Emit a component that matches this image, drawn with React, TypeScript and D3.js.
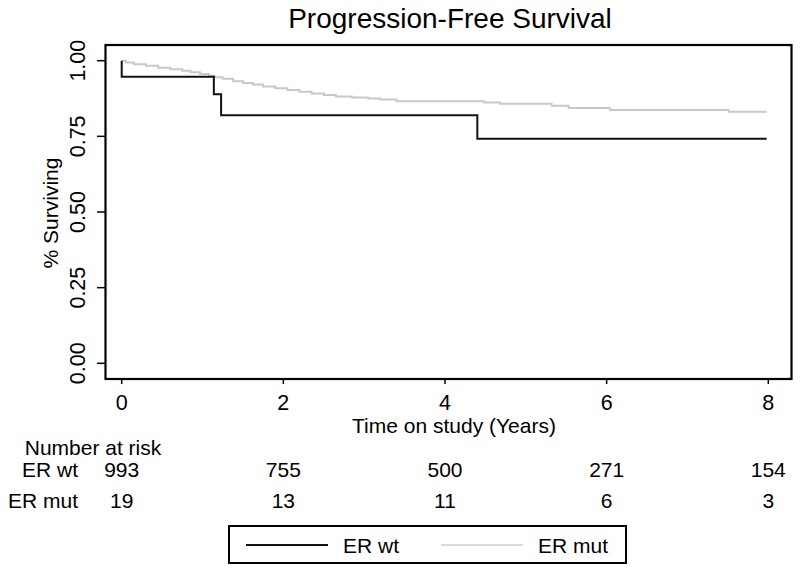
import React from "react";
import * as d3 from "d3";

// ---- data ----
const title = "Progression-Free Survival";
const xTicks = [0, 2, 4, 6, 8];
const yTicks = [0, 0.25, 0.5, 0.75, 1.0];
const yTickLabels = ["0.00", "0.25", "0.50", "0.75", "1.00"];

// black curve (few events)
const blackTimes = [0, 0, 1.14, 1.23, 4.40, 7.98];
const blackSurv = [1.0, 0.947, 0.889, 0.820, 0.742, 0.742];

// gray curve (many events)
const grayTimes = [0, 0.05, 0.15, 0.30, 0.45, 0.60, 0.75, 0.85, 0.97, 1.08, 1.15, 1.25, 1.38, 1.50, 1.62, 1.75, 1.90, 2.05, 2.20, 2.35, 2.50, 2.65, 2.85, 3.05, 3.20, 3.40, 4.48, 4.68, 5.32, 5.53, 6.04, 7.51, 7.98];
const graySurv = [1.0, 0.994, 0.988, 0.983, 0.977, 0.972, 0.967, 0.962, 0.956, 0.950, 0.945, 0.940, 0.932, 0.926, 0.921, 0.915, 0.909, 0.903, 0.897, 0.892, 0.887, 0.882, 0.878, 0.875, 0.872, 0.866, 0.862, 0.858, 0.851, 0.844, 0.837, 0.831, 0.831];

const riskTimes = [0, 2, 4, 6, 8];
const riskWt = [993, 755, 500, 271, 154];
const riskMut = [19, 13, 11, 6, 3];
const groupNames = ["ER wt", "ER mut"];

const FONT = "'Liberation Sans', Arial, Helvetica, sans-serif";

export default function App() {
  const W = 800, H = 572;
  const box = { l: 105.5, r: 791.5, t: 45, b: 379 };
  const x = d3.scaleLinear().domain([0, 8]).range([121.7, 768.3]);
  const y = d3.scaleLinear().domain([0, 1]).range([363.3, 60.7]);

  const line = d3
    .line<[number, number]>()
    .x((d) => x(d[0]))
    .y((d) => y(d[1]))
    .curve(d3.curveStepAfter);

  const blackPts = blackTimes.map((t, i) => [t, blackSurv[i]] as [number, number]);
  const grayPts = grayTimes.map((t, i) => [t, graySurv[i]] as [number, number]);

  const fs = 21.5;
  const fs2 = 21;

  return (
    <svg
      width={W}
      height={H}
      style={{ position: "absolute", left: 0, top: 0, background: "#fff" }}
      fontFamily={FONT}
    >
      <rect x={0} y={0} width={W} height={H} fill="#fff" />
      <text x={450} y={28} fontSize={28} textAnchor="middle" fill="#000">
        {title}
      </text>

      {/* curves */}
      <path d={line(grayPts) || ""} fill="none" stroke="#c8c8c8" strokeWidth={2} />
      <path d={line(blackPts) || ""} fill="none" stroke="#111" strokeWidth={2} />

      {/* plot box */}
      <rect
        x={box.l}
        y={box.t}
        width={box.r - box.l}
        height={box.b - box.t}
        fill="none"
        stroke="#000"
        strokeWidth={2.2}
      />

      {/* y axis ticks */}
      {yTicks.map((v, i) => (
        <g key={"y" + i}>
          <line x1={97} x2={box.l} y1={y(v)} y2={y(v)} stroke="#000" strokeWidth={1.5} />
          <text
            transform={`translate(${85},${y(v)}) rotate(-90)`}
            fontSize={fs}
            textAnchor="middle"
            fill="#000"
          >
            {yTickLabels[i]}
          </text>
        </g>
      ))}
      <text
        transform={`translate(${58},${213}) rotate(-90)`}
        fontSize={fs2}
        textAnchor="middle"
        fill="#000"
      >
        % Surviving
      </text>

      {/* x axis ticks */}
      {xTicks.map((v) => (
        <g key={"x" + v}>
          <line x1={x(v)} x2={x(v)} y1={box.b} y2={box.b + 5} stroke="#000" strokeWidth={1.5} />
          <text x={x(v)} y={410} fontSize={fs} textAnchor="middle" fill="#000">
            {v}
          </text>
        </g>
      ))}
      <text x={454} y={433} fontSize={fs2} textAnchor="middle" fill="#000">
        Time on study (Years)
      </text>

      {/* number at risk */}
      <text x={93} y={455} fontSize={fs2} textAnchor="middle" fill="#000">
        Number at risk
      </text>
      <text x={78} y={477} fontSize={fs2} textAnchor="end" fill="#000">
        {groupNames[0]}
      </text>
      <text x={78} y={508} fontSize={fs2} textAnchor="end" fill="#000">
        {groupNames[1]}
      </text>
      {riskTimes.map((t, i) => (
        <g key={"r" + i}>
          <text x={x(t)} y={477} fontSize={fs2} textAnchor="middle" fill="#000">
            {riskWt[i]}
          </text>
          <text x={x(t)} y={508} fontSize={fs2} textAnchor="middle" fill="#000">
            {riskMut[i]}
          </text>
        </g>
      ))}

      {/* legend */}
      <rect x={229} y={526} width={397} height={37} fill="#fff" stroke="#000" strokeWidth={2} />
      <line x1={246} x2={328} y1={545} y2={545} stroke="#111" strokeWidth={2} />
      <text x={343} y={552.5} fontSize={fs2} fill="#000">
        {groupNames[0]}
      </text>
      <line x1={441} x2={523} y1={545} y2={545} stroke="#dadada" strokeWidth={2} />
      <text x={538} y={552.5} fontSize={fs2} fill="#000">
        {groupNames[1]}
      </text>
    </svg>
  );
}
